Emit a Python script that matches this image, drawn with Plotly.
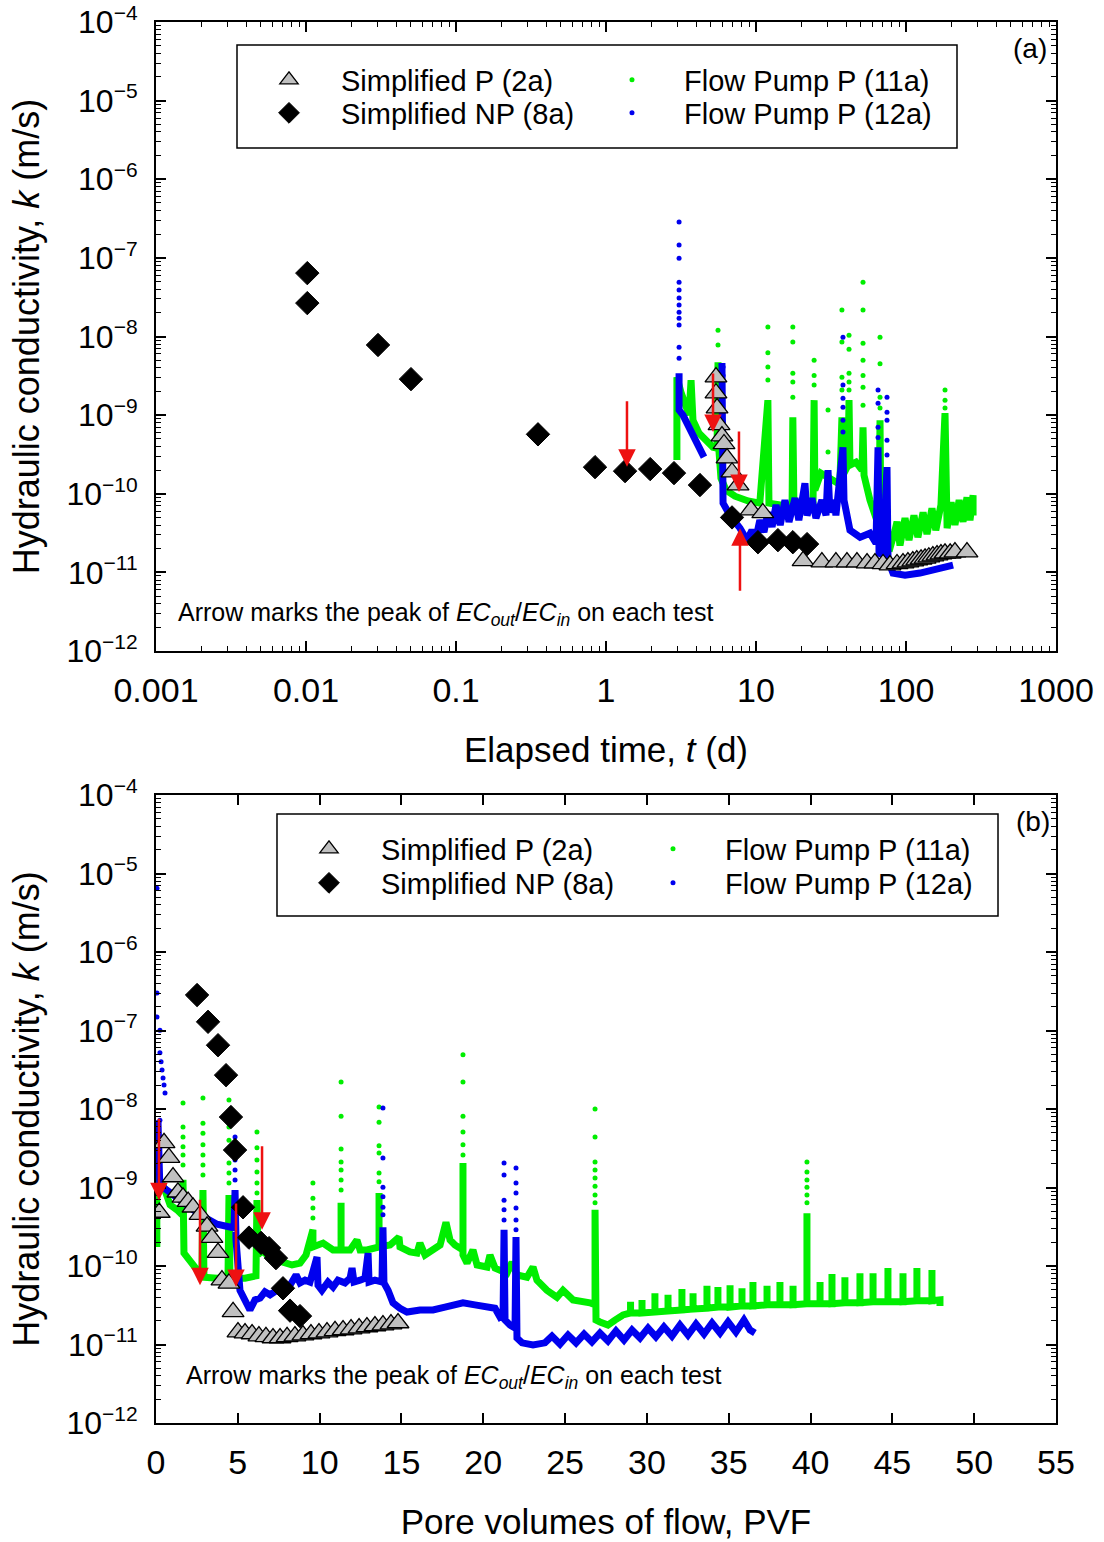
import numpy as np
import plotly.graph_objects as go

FONT = "Liberation Sans, Arial, sans-serif"
GREEN = "#00ee00"
BLUE = "#0000ee"
RED = "#ee1111"

# ======================= panel (a): elapsed time t (d) =======================
np8a_a_t = [0.0102, 0.0102, 0.0302, 0.0501, 0.352, 0.845, 1.34, 1.97, 2.84, 4.23, 6.92, 10.3, 14.0, 17.6, 21.9]
np8a_a_k = [6.4e-8, 2.66e-8, 7.8e-9, 2.87e-9, 5.7e-10, 2.18e-10, 1.94e-10, 2.06e-10, 1.83e-10, 1.29e-10,
            5.0e-11, 2.42e-11, 2.57e-11, 2.42e-11, 2.29e-11]

p2a_a_t = [5.41, 5.41, 5.50, 5.67, 5.93, 6.12, 6.41, 6.92, 7.59, 9.26, 11.1, 20.6, 27.5, 34.1, 40.4, 47.1,
           55.0, 62.1, 70.3, 78.2, 87.1, 95.5, 103, 111, 118, 126, 134, 142, 151, 161, 171, 182, 197, 212, 255]
p2a_a_k = [3.04e-9, 1.9e-9, 1.23e-9, 7.5e-10, 5.4e-10, 4.3e-10, 2.84e-10, 1.88e-10, 1.29e-10, 6.2e-11, 5.7e-11,
           1.4e-11, 1.35e-11, 1.35e-11, 1.35e-11, 1.35e-11, 1.31e-11, 1.31e-11, 1.28e-11, 1.24e-11, 1.28e-11,
           1.31e-11, 1.35e-11, 1.39e-11, 1.43e-11, 1.47e-11, 1.51e-11, 1.56e-11, 1.61e-11, 1.66e-11, 1.71e-11,
           1.75e-11, 1.75e-11, 1.81e-11, 1.81e-11]

fp11a_a_band = [
    (2.97, 2.68e-10), (2.97, 3.04e-9), (3.16, 1.96e-9), (3.36, 1.34e-9), (3.58, 1.0e-9), (3.69, 2.79e-9),
    (3.80, 8.6e-10), (4.17, 5.9e-10), (4.64, 4.7e-10), (5.17, 3.9e-10), (5.50, 3.8e-10), (5.58, 4.7e-9),
    (5.67, 3.4e-10), (5.84, 1.58e-10), (6.31, 1.11e-10), (7.24, 9.3e-11), (8.85, 8.1e-11), (10.6, 7.6e-11),
    (12.0, 1.55e-9), (12.2, 7.6e-11), (14.5, 7.2e-11), (17.4, 7.2e-11), (17.6, 9.4e-10), (17.9, 7.2e-11),
    (20.9, 7.6e-11), (24.0, 7.6e-11), (24.4, 1.55e-9), (24.7, 1.11e-10), (27.1, 1.83e-10), (30.2, 1.58e-10),
    (34.1, 1.41e-10), (36.3, 1.49e-10), (37.4, 9.4e-10), (38.0, 1.72e-10), (41.1, 2.31e-10), (41.7, 1.55e-9),
    (42.3, 2.31e-10), (46.4, 2.52e-10), (50.9, 2.0e-10), (51.7, 7.0e-10), (52.5, 1.72e-10), (57.5, 8.3e-11),
    (62.1, 4.9e-11), (66.1, 3.8e-11), (67.1, 8.6e-10), (68.1, 3.25e-11), (72.4, 2.09e-11), (78.2, 2.03e-11),
    (84.5, 3.44e-11), (87.1, 4.4e-11), (91.2, 2.2e-11), (98.5, 4.9e-11), (104.7, 2.57e-11), (113, 5.3e-11),
    (120, 2.8e-11), (130, 5.8e-11), (138, 3.06e-11), (149, 6.5e-11), (158, 3.44e-11), (171, 7.2e-11),
    (182, 1.06e-9), (188, 3.65e-11), (200, 7.8e-11), (212, 4.0e-11), (226, 8.3e-11), (240, 4.4e-11),
    (255, 9.0e-11), (267, 4.6e-11), (280, 9.6e-11), (280, 5.3e-11),
]
fp11a_a_dots = [
    (2.97, 6.5e-10), (2.97, 4.15e-10), (5.58, 1.2e-8), (5.58, 7.8e-9), (12.0, 1.32e-8), (12.0, 6.2e-9),
    (12.0, 4.1e-9), (12.0, 2.79e-9), (17.6, 1.32e-8), (17.6, 8.5e-9), (17.6, 3.4e-9), (17.6, 2.63e-9),
    (17.6, 1.69e-9), (24.4, 5.0e-9), (24.4, 3.2e-9), (24.4, 2.41e-9), (30.2, 1.16e-9), (30.2, 3.4e-10),
    (37.4, 2.17e-8), (37.4, 8.5e-9), (37.4, 3.04e-9), (37.4, 2.08e-9), (41.7, 1.04e-8), (41.7, 6.9e-9),
    (41.7, 3.4e-9), (41.7, 2.63e-9), (41.7, 2.08e-9), (51.7, 4.9e-8), (51.7, 2.17e-8), (51.7, 8.2e-9),
    (51.7, 5.0e-9), (51.7, 3.2e-9), (51.7, 2.27e-9), (51.7, 1.34e-9), (67.1, 9.8e-9), (67.1, 4.5e-9),
    (67.1, 1.69e-9), (67.1, 1.23e-9), (182, 2.08e-9), (182, 1.55e-9), (182, 1.23e-9),
]

fp12a_a_band = [
    (3.07, 3.4e-9), (3.07, 1.16e-9), (3.26, 1.0e-9), (3.52, 7.5e-10), (3.80, 5.2e-10), (4.11, 3.8e-10),
    (4.50, 2.92e-10), (None, None), (5.93, 4.6e-9), (6.03, 7.6e-11), (6.71, 5.3e-11), (7.82, 3.65e-11),
    (8.71, 2.57e-11), (9.40, 3.44e-11), (10.0, 2.72e-11), (10.6, 4.6e-11), (11.3, 3.25e-11), (12.0, 5.8e-11),
    (12.8, 3.8e-11), (13.6, 7.2e-11), (14.5, 4.0e-11), (15.6, 8.3e-11), (16.6, 4.4e-11), (18.2, 8.8e-11),
    (19.3, 4.6e-11), (21.2, 1.36e-10), (21.9, 5.3e-11), (23.6, 8.8e-11), (25.1, 4.9e-11), (27.5, 8.3e-11),
    (29.3, 5.3e-11), (30.2, 2.0e-10), (31.1, 5.8e-11), (33.1, 8.3e-11), (34.1, 5.3e-11), (38.0, 3.9e-10),
    (38.6, 8.3e-11), (42.3, 3.44e-11), (49.4, 2.8e-11), (57.5, 3.15e-11), (63.1, 2.35e-11), (65.1, 3.9e-10),
    (66.1, 1.75e-11), (70.3, 1.66e-11), (74.7, 2.18e-10), (75.9, 1.43e-11), (81.9, 9.8e-12), (98.5, 9.2e-12),
    (124, 9.8e-12), (156, 1.07e-11), (206, 1.24e-11),
]
fp12a_a_dots = [
    (3.07, 2.85e-7), (3.07, 1.46e-7), (3.07, 9.9e-8), (3.07, 4.9e-8), (3.07, 3.9e-8), (3.07, 3.08e-8),
    (3.07, 2.51e-8), (3.07, 2.04e-8), (3.07, 1.71e-8), (3.07, 1.40e-8), (3.07, 7.3e-9), (3.07, 5.3e-9),
    (6.03, 4.1e-9), (6.03, 3.2e-9), (38.0, 9.8e-9), (38.0, 2.41e-9), (38.0, 1.64e-9), (38.0, 1.26e-9),
    (38.0, 8.6e-10), (38.0, 6.1e-10), (65.1, 2.08e-9), (65.1, 1.42e-9), (65.1, 7.0e-10), (65.1, 5.2e-10),
    (74.7, 1.69e-9), (74.7, 1.09e-9), (74.7, 8.6e-10), (74.7, 4.8e-10), (74.7, 3.1e-10),
]

# arrows (tip position) and arrow pixel length in panel (a)
arrow_a_t = [1.38, 5.17, 7.70, 7.82]
arrow_a_k = [2.2e-10, 6.1e-10, 1.05e-10, 3.65e-11]
arrow_a_len = [-67, -60, -62, 64]

# ======================= panel (b): pore volumes of flow =======================
np8a_b_pvf = [2.51, 3.18, 3.79, 4.28, 4.58, 4.83, 5.32, 5.68, 6.42, 6.91, 7.33, 7.76, 8.19, 8.80]
np8a_b_k = [2.83e-7, 1.29e-7, 6.5e-8, 2.7e-8, 7.9e-9, 3.0e-9, 5.6e-10, 2.3e-10, 1.97e-10, 1.69e-10,
            1.26e-10, 5.2e-11, 2.7e-11, 2.3e-11]

p2a_b_pvf = [0.20, 0.49, 0.79, 1.04, 1.34, 1.65, 1.96, 2.26, 2.69, 3.12, 3.42, 3.79, 4.03, 4.46, 4.71,
             5.01, 5.44, 5.87, 6.29, 6.72, 7.15, 7.58, 8.01, 8.49, 8.98, 9.47, 9.96, 10.45, 10.94, 11.43,
             11.92, 12.41, 12.89, 13.38, 13.87, 14.36, 14.79]
p2a_b_k = [4.8e-10, 3.7e-9, 2.4e-9, 1.36e-9, 8.7e-10, 7.5e-10, 6.6e-10, 5.6e-10, 4.5e-10, 3.2e-10, 2.3e-10,
           1.48e-10, 6.6e-11, 6.0e-11, 2.6e-11,
           1.44e-11, 1.40e-11, 1.36e-11, 1.28e-11, 1.25e-11, 1.21e-11, 1.21e-11, 1.25e-11, 1.28e-11, 1.32e-11,
           1.36e-11, 1.40e-11, 1.44e-11, 1.49e-11, 1.53e-11, 1.57e-11, 1.62e-11, 1.67e-11, 1.72e-11,
           1.77e-11, 1.82e-11, 1.88e-11]

fp11a_b_band = [
    (0.05, 1.75e-10), (0.05, 3.0e-9), (0.06, 1.36e-9), (0.43, 1.08e-9), (0.86, 6.0e-10), (1.28, 5.2e-10),
    (1.59, 4.5e-10), (1.65, 1.25e-9), (1.71, 1.46e-10), (2.51, 8.9e-11), (2.81, 8.4e-11), (2.87, 9.3e-10),
    (2.93, 7.2e-11), (3.73, 7.0e-11), (4.40, 7.2e-11), (4.46, 8.0e-10), (4.52, 7.0e-11), (5.44, 7.0e-11),
    (6.11, 7.5e-11), (6.17, 6.9e-10), (6.23, 1.38e-10), (6.48, 1.6e-10), (6.97, 1.26e-10), (7.76, 1.12e-10),
    (8.31, 1.03e-10), (8.80, 1.09e-10), (9.17, 1.38e-10), (9.59, 2.9e-10), (9.59, 1.75e-10), (10.21, 1.96e-10),
    (10.82, 1.6e-10), (11.31, 1.6e-10), (11.31, 6.4e-10), (11.31, 1.6e-10), (11.86, 1.6e-10), (12.28, 2.14e-10),
    (12.47, 1.6e-10), (12.89, 1.6e-10), (13.63, 1.75e-10), (13.63, 8.5e-10), (13.63, 1.75e-10),
    (14.30, 1.85e-10), (14.85, 2.34e-10), (14.91, 1.75e-10), (15.52, 1.51e-10), (15.95, 1.46e-10),
    (16.13, 1.96e-10), (16.44, 1.38e-10), (16.93, 1.6e-10), (17.36, 1.85e-10), (17.72, 3.6e-10),
    (17.97, 2.14e-10), (18.27, 1.85e-10), (18.76, 1.6e-10), (18.76, 2.05e-9), (18.76, 1.38e-10),
    (19.01, 1.09e-10), (19.37, 1.6e-10), (19.62, 1.03e-10), (20.23, 9.7e-11), (20.41, 1.38e-10),
    (20.72, 9.4e-11), (21.45, 8.1e-11), (21.76, 1.12e-10), (22.06, 7.7e-11), (22.67, 7.2e-11),
    (23.04, 9.7e-11), (23.28, 6.6e-11), (23.89, 4.9e-11), (24.50, 4.0e-11), (24.87, 4.9e-11),
    (25.48, 3.7e-11), (26.52, 3.4e-11), (26.83, 3.2e-11), (26.83, 5.2e-10), (26.89, 2.05e-11),
    (27.13, 1.94e-11), (27.62, 1.77e-11), (28.05, 2.05e-11), (28.54, 2.38e-11),
    (29.00, 2.52e-11), (29.00, 3.5e-11), (29.00, 2.52e-11),
    (29.70, 2.52e-11), (29.70, 3.7e-11), (29.70, 2.52e-11),
    (30.49, 2.59e-11), (30.49, 4.5e-11), (30.49, 2.59e-11),
    (31.29, 2.67e-11), (31.29, 4.3e-11), (31.29, 2.67e-11),
    (32.14, 2.75e-11), (32.14, 5.1e-11), (32.14, 2.75e-11),
    (32.82, 2.83e-11), (32.82, 4.5e-11), (32.82, 2.83e-11),
    (33.67, 2.9e-11), (33.67, 5.6e-11), (33.67, 2.9e-11),
    (34.34, 3.0e-11), (34.34, 5.4e-11), (34.34, 3.0e-11),
    (35.08, 3.0e-11), (35.08, 5.7e-11), (35.08, 3.0e-11),
    (35.81, 3.1e-11), (35.81, 5.2e-11), (35.81, 3.1e-11),
    (36.48, 3.1e-11), (36.48, 6.25e-11), (36.48, 3.1e-11),
    (37.34, 3.2e-11), (37.34, 5.6e-11), (37.34, 3.2e-11),
    (38.13, 3.2e-11), (38.13, 6.25e-11), (38.13, 3.2e-11),
    (38.93, 3.2e-11), (38.93, 5.6e-11), (38.93, 3.2e-11),
    (39.78, 3.3e-11), (39.78, 4.7e-10), (39.78, 3.3e-11),
    (40.58, 3.3e-11), (40.58, 6.25e-11), (40.58, 3.3e-11),
    (41.31, 3.3e-11), (41.31, 7.9e-11), (41.31, 3.3e-11),
    (42.10, 3.4e-11), (42.10, 7.2e-11), (42.10, 3.4e-11),
    (43.02, 3.4e-11), (43.02, 8.1e-11), (43.02, 3.4e-11),
    (43.82, 3.5e-11), (43.82, 8.1e-11), (43.82, 3.5e-11),
    (44.73, 3.5e-11), (44.73, 9.4e-11), (44.73, 3.5e-11),
    (45.65, 3.5e-11), (45.65, 8.1e-11), (45.65, 3.5e-11),
    (46.50, 3.6e-11), (46.50, 9.4e-11), (46.50, 3.6e-11),
    (47.42, 3.6e-11), (47.42, 8.9e-11), (47.42, 3.6e-11),
    (47.91, 3.7e-11), (47.91, 3.1e-11),
]
fp11a_b_dots = [
    (0.05, 3.7e-9), (1.65, 1.19e-8), (1.65, 5.9e-9), (1.65, 4.4e-9), (1.65, 3.3e-9), (1.65, 2.59e-9),
    (1.65, 1.94e-9), (2.87, 1.38e-8), (2.87, 6.6e-9), (2.87, 4.9e-9), (2.87, 3.5e-9), (2.87, 2.59e-9),
    (2.87, 1.94e-9), (2.87, 1.44e-9), (4.46, 1.30e-8), (4.46, 5.9e-9), (4.46, 4.0e-9), (4.46, 2.83e-9),
    (4.46, 2.05e-9), (4.46, 1.53e-9), (4.46, 1.14e-9), (6.17, 5.1e-9), (6.17, 3.2e-9), (6.17, 2.24e-9),
    (6.17, 1.57e-9), (6.17, 1.14e-9), (6.17, 8.5e-10), (9.59, 1.14e-9), (9.59, 7.3e-10), (9.59, 5.5e-10),
    (9.59, 4.1e-10), (11.31, 2.21e-8), (11.31, 8.1e-9), (11.31, 3.1e-9), (11.31, 2.11e-9), (11.31, 1.67e-9),
    (11.31, 1.25e-9), (11.31, 9.3e-10), (13.63, 1.06e-8), (13.63, 6.8e-9), (13.63, 3.4e-9), (13.63, 2.75e-9),
    (13.63, 1.53e-9), (13.63, 1.18e-9), (18.76, 4.9e-8), (18.76, 2.21e-8), (18.76, 8.1e-9), (18.76, 5.1e-9),
    (18.76, 3.5e-9), (18.76, 2.59e-9), (26.83, 1.0e-8), (26.83, 4.4e-9), (26.83, 2.11e-9), (26.83, 1.67e-9),
    (26.83, 1.32e-9), (26.83, 1.04e-9), (26.83, 8.0e-10), (26.83, 6.4e-10), (39.78, 2.11e-9),
    (39.78, 1.57e-9), (39.78, 1.25e-9), (39.78, 1.01e-9), (39.78, 8.0e-10), (39.78, 6.4e-10),
]

fp12a_b_band = [
    (0.12, 7.2e-9), (0.24, 9.3e-10), (0.43, 1.01e-9), (0.67, 9.3e-10), (0.86, 8.5e-10), (1.65, 6.4e-10),
    (2.69, 4.5e-10), (3.73, 3.4e-10), (4.77, 3.05e-10), (4.83, 9.3e-10), (4.89, 2.14e-10), (5.13, 4.9e-11),
    (5.44, 3.7e-11), (5.74, 2.75e-11), (6.05, 3.7e-11), (6.36, 3.9e-11), (6.66, 4.7e-11), (6.97, 4.3e-11),
    (7.39, 4.9e-11), (7.76, 5.2e-11), (8.19, 5.7e-11), (8.56, 7.7e-11), (8.80, 6.1e-11), (9.11, 6.6e-11),
    (9.41, 6.25e-11), (9.84, 1.30e-10), (9.90, 5.7e-11), (10.14, 4.9e-11), (10.51, 6.25e-11), (10.82, 5.4e-11),
    (11.12, 6.6e-11), (11.55, 6.1e-11), (11.86, 7.0e-11), (11.98, 9.4e-11), (12.10, 6.25e-11),
    (12.47, 6.6e-11), (12.77, 7.0e-11), (12.96, 1.46e-10), (13.02, 6.25e-11), (13.38, 6.6e-11),
    (13.81, 6.25e-11), (13.87, 3.1e-10), (13.93, 6.1e-11), (14.18, 4.9e-11), (14.48, 3.4e-11),
    (14.91, 2.9e-11), (15.34, 2.59e-11), (16.13, 2.75e-11), (16.93, 2.75e-11), (17.66, 3.0e-11),
    (18.27, 3.2e-11), (18.76, 3.4e-11), (19.49, 3.2e-11), (20.23, 3.0e-11), (20.72, 2.9e-11),
    (21.02, 2.24e-11), (21.21, 2.38e-11), (21.27, 2.9e-10), (21.33, 2.05e-11), (21.63, 1.77e-11),
    (21.94, 1.62e-11), (22.00, 2.34e-10), (22.06, 1.21e-11), (22.37, 1.05e-11), (23.04, 9.9e-12),
    (23.77, 1.05e-11), (24.20, 1.28e-11), (24.69, 1.01e-11), (25.18, 1.32e-11), (25.67, 1.05e-11),
    (26.16, 1.36e-11), (26.64, 1.08e-11), (27.13, 1.40e-11), (27.62, 1.11e-11), (28.11, 1.49e-11),
    (28.60, 1.14e-11), (29.09, 1.53e-11), (29.58, 1.21e-11), (30.07, 1.62e-11), (30.55, 1.25e-11),
    (31.04, 1.67e-11), (31.53, 1.28e-11), (32.02, 1.77e-11), (32.51, 1.32e-11), (33.00, 1.82e-11),
    (33.49, 1.36e-11), (33.98, 1.88e-11), (34.47, 1.40e-11), (34.96, 1.94e-11), (35.44, 1.44e-11),
    (35.93, 2.05e-11), (36.30, 1.53e-11), (36.60, 1.40e-11),
]
fp12a_b_dots = [
    (0.06, 6.5e-6), (0.06, 3.0e-7), (0.06, 1.49e-7), (0.24, 1.01e-7), (0.24, 5.2e-8), (0.31, 4.0e-8),
    (0.37, 3.14e-8), (0.43, 2.48e-8), (0.49, 2.02e-8), (0.55, 1.6e-8), (0.24, 7.2e-9),
    (4.83, 4.4e-9), (4.83, 3.0e-9), (4.83, 2.24e-9), (4.83, 1.67e-9), (4.83, 1.25e-9),
    (13.87, 1.03e-8), (13.87, 2.37e-9), (13.87, 1.01e-9), (13.87, 7.6e-10), (13.87, 5.6e-10), (13.87, 4.5e-10),
    (21.27, 2.05e-9), (21.27, 1.44e-9), (21.27, 6.9e-10), (21.27, 5.2e-10), (21.27, 3.85e-10),
    (22.00, 1.77e-9), (22.00, 1.14e-9), (22.00, 8.5e-10), (22.00, 5.5e-10), (22.00, 3.85e-10), (22.00, 2.9e-10),
]

arrow_b_pvf = [0.18, 2.69, 4.89, 6.48]
arrow_b_k = [6.9e-10, 5.7e-11, 5.4e-11, 2.9e-10]
arrow_b_len = [-83, -87, -85, -85]

# legend entry placement (paper coords of entry left edge / row centre)
LEG_A_X = [0.09, 0.47111]
LEG_A_Y = [0.95860, 0.93505]
LEG_B_X = [0.13444, 0.51667]
LEG_B_Y = [0.40971, 0.38544]


def split(pairs):
    return [p[0] for p in pairs], [p[1] for p in pairs]


fig = go.Figure()


def add_panel(xa, ya, legs, g_band, g_dots, b_band, b_dots, d_x, d_k, t_x, t_k):
    # legs: [SP, SNP, FP11, FP12]
    gx, gy = split(g_band)
    fig.add_trace(go.Scatter(x=gx, y=gy, mode="lines", line=dict(color=GREEN, width=7),
                             showlegend=False, xaxis=xa, yaxis=ya, hoverinfo="skip"))
    gx, gy = split(g_dots)
    fig.add_trace(go.Scatter(x=gx, y=gy, mode="markers", name="Flow Pump P (11a)",
                             marker=dict(color=GREEN, size=5), legend=legs[2],
                             xaxis=xa, yaxis=ya))
    bx, by = split(b_band)
    fig.add_trace(go.Scatter(x=bx, y=by, mode="lines", line=dict(color=BLUE, width=7), connectgaps=False,
                             showlegend=False, xaxis=xa, yaxis=ya, hoverinfo="skip"))
    bx, by = split(b_dots)
    fig.add_trace(go.Scatter(x=bx, y=by, mode="markers", name="Flow Pump P (12a)",
                             marker=dict(color=BLUE, size=5), legend=legs[3],
                             xaxis=xa, yaxis=ya))
    fig.add_trace(go.Scatter(x=d_x, y=d_k, mode="markers", name="Simplified NP (8a)",
                             marker=dict(symbol="diamond", color="black", size=18,
                                         line=dict(color="black", width=1)),
                             legend=legs[1], xaxis=xa, yaxis=ya))
    fig.add_trace(go.Scatter(x=t_x, y=t_k, mode="markers", name="Simplified P (2a)",
                             marker=dict(symbol="triangle-up", color="#c0c0c0", size=19,
                                         line=dict(color="black", width=1.3)),
                             legend=legs[0], xaxis=xa, yaxis=ya))


add_panel("x", "y", ["legend", "legend2", "legend3", "legend4"],
          fp11a_a_band, fp11a_a_dots, fp12a_a_band, fp12a_a_dots,
          np8a_a_t, np8a_a_k, p2a_a_t, p2a_a_k)
add_panel("x2", "y2", ["legend5", "legend6", "legend7", "legend8"],
          fp11a_b_band, fp11a_b_dots, fp12a_b_band, fp12a_b_dots,
          np8a_b_pvf, np8a_b_k, p2a_b_pvf, p2a_b_k)

# ---------------- axes ----------------
ydec = list(range(-12, -3))
ytickvals = [10.0 ** e for e in ydec]
yticktext = ["10<sup><span style='font-size:21px'>\u2212%d</span></sup>" % (-e) for e in ydec]
yminor = [m * 10.0 ** e for e in range(-12, -4) for m in range(2, 10)]
xdec = list(range(-3, 4))
xtickvals = [10.0 ** e for e in xdec]
xticktext = ["0.001", "0.01", "0.1", "1", "10", "100", "1000"]
xminor = [m * 10.0 ** e for e in range(-3, 3) for m in range(2, 10)]

common = dict(showline=True, linecolor="black", linewidth=2, mirror="ticks", ticks="inside",
              ticklen=10, tickwidth=1.5, tickcolor="black", showgrid=False, zeroline=False,
              automargin=False, ticklabeloverflow="allow")
minor_style = dict(ticks="inside", ticklen=5, tickwidth=1, tickcolor="black", showgrid=False)

ytitle = "Hydraulic conductivity, <i>k</i> (m/s)"
yaxis_common = dict(type="log", range=[-12, -4], tickmode="array", tickvals=ytickvals, ticktext=yticktext,
                    tickfont=dict(family=FONT, size=32, color="black"), ticklabelstandoff=10,
                    minor=dict(tickmode="array", tickvals=yminor, **minor_style),
                    title=dict(text=ytitle, font=dict(family=FONT, size=36, color="black"), standoff=16),
                    **common)
xtitle_font = dict(family=FONT, size=35, color="black")

leg_common = dict(orientation="v", xanchor="left", yanchor="middle", itemwidth=94, borderwidth=0,
                  bgcolor="rgba(0,0,0,0)", font=dict(family=FONT, size=29, color="black"))
legends = {}
names = ["legend", "legend2", "legend3", "legend4", "legend5", "legend6", "legend7", "legend8"]
positions = [(LEG_A_X[0], LEG_A_Y[0]), (LEG_A_X[0], LEG_A_Y[1]), (LEG_A_X[1], LEG_A_Y[0]),
             (LEG_A_X[1], LEG_A_Y[1]), (LEG_B_X[0], LEG_B_Y[0]), (LEG_B_X[0], LEG_B_Y[1]),
             (LEG_B_X[1], LEG_B_Y[0]), (LEG_B_X[1], LEG_B_Y[1])]
for nm, (lx, ly) in zip(names, positions):
    legends[nm] = dict(x=lx, y=ly, **leg_common)

fig.update_layout(
    width=1104, height=1542,
    margin=dict(l=156, r=48, t=22, b=119, autoexpand=False),
    paper_bgcolor="white", plot_bgcolor="white",
    font=dict(family=FONT, color="black"),
    xaxis=dict(domain=[0, 1], anchor="y", type="log", range=[-3, 3], tickmode="array",
               tickvals=xtickvals, ticktext=xticktext, ticklabelstandoff=8,
               tickfont=dict(family=FONT, size=34, color="black"),
               minor=dict(tickmode="array", tickvals=xminor, **minor_style),
               title=dict(text="Elapsed time, <i>t</i> (d)", font=xtitle_font, standoff=30),
               **common),
    yaxis=dict(domain=[0.55103, 1], anchor="x", **yaxis_common),
    xaxis2=dict(domain=[0, 1], anchor="y2", range=[0, 55], tickmode="linear", tick0=0, dtick=5,
                ticklabelstandoff=8, tickfont=dict(family=FONT, size=34, color="black"),
                title=dict(text="Pore volumes of flow, PVF", font=xtitle_font, standoff=30),
                **common),
    yaxis2=dict(domain=[0, 0.44825], anchor="x2", **yaxis_common),
    showlegend=True,
    **legends,
)

# legend frames
fig.add_shape(type="rect", xref="paper", yref="paper", x0=0.09, x1=0.89, y0=0.91006, y1=0.98358,
              line=dict(color="black", width=1.5), layer="above")
fig.add_shape(type="rect", xref="paper", yref="paper", x0=0.13444, x1=0.93556, y0=0.36188, y1=0.43469,
              line=dict(color="black", width=1.5), layer="above")

ann = []
note = ("Arrow marks the peak of <i>EC</i><sub><i>out</i></sub>/<i>EC</i><sub><i>in</i></sub> on each test")
ann.append(dict(text=note, xref="paper", yref="paper", x=0.0222, y=0.57745, xanchor="left", yanchor="middle",
                showarrow=False, font=dict(family=FONT, size=25, color="black")))
ann.append(dict(text=note, xref="paper", yref="paper", x=0.0311, y=0.03283, xanchor="left", yanchor="middle",
                showarrow=False, font=dict(family=FONT, size=25, color="black")))
ann.append(dict(text="(a)", xref="paper", yref="paper", x=0.9711, y=0.98144, xanchor="center",
                yanchor="middle", showarrow=False, font=dict(family=FONT, size=28, color="black")))
ann.append(dict(text="(b)", xref="paper", yref="paper", x=0.9744, y=0.42898, xanchor="center",
                yanchor="middle", showarrow=False, font=dict(family=FONT, size=28, color="black")))

for t, k, L in zip(arrow_a_t, arrow_a_k, arrow_a_len):
    ann.append(dict(x=np.log10(t), y=np.log10(k), xref="x", yref="y", ax=0, ay=L, text="",
                    showarrow=True, arrowhead=2, arrowsize=1.4, arrowwidth=2.5, arrowcolor=RED))
for p, k, L in zip(arrow_b_pvf, arrow_b_k, arrow_b_len):
    ann.append(dict(x=p, y=np.log10(k), xref="x2", yref="y2", ax=0, ay=L, text="",
                    showarrow=True, arrowhead=2, arrowsize=1.4, arrowwidth=2.5, arrowcolor=RED))
fig.update_layout(annotations=ann)

# page body without its default 8px margin, so the figure sits at the window origin
fig.write_html("out.html", config={"displayModeBar": False},
               post_script="document.body.style.margin='0px';")
